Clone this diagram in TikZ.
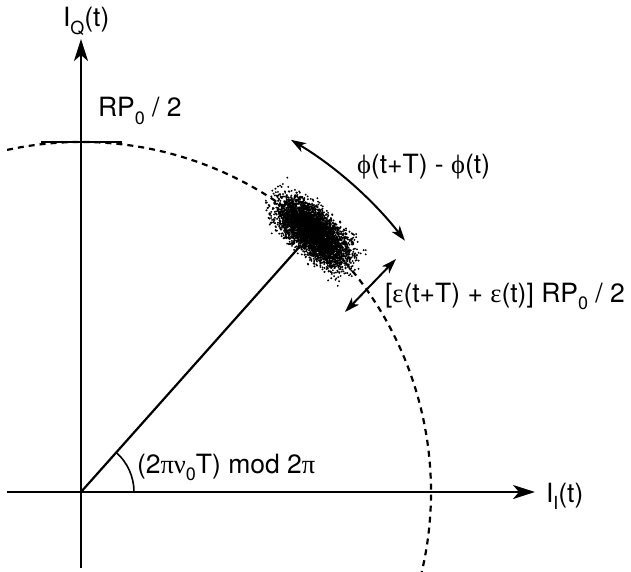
\documentclass[tikz,border=0pt]{standalone}
\usepackage{fontspec}
\setmainfont{TeX Gyre Heros}
\newfontfamily\grk{Liberation Serif}
\usetikzlibrary{arrows.meta,calc}
\newcommand\sbs[1]{\raisebox{-0.3em}{\fontsize{18}{18}\selectfont #1}}
\newcommand\gk[1]{{\grk #1}}
\begin{document}
\begin{tikzpicture}[x=1pt,y=-1pt,
  font=\fontsize{26.5}{30}\selectfont,
  axis/.style={line width=2.5pt,-{Stealth[length=22pt,width=14pt,inset=6pt]}},
  dbl/.style={line width=2pt,{Stealth[length=15pt,width=10pt,inset=4pt]}-{Stealth[length=15pt,width=10pt,inset=4pt]}},
  circ/.style={line width=2.2pt,dash pattern=on 6pt off 5pt},
  radial/.style={line width=2.2pt},
  lbl/.style={anchor=base west,inner sep=0pt,outer sep=0pt}]
\useasboundingbox (0,0) rectangle (631,572);
\coordinate (O) at (81,492);
\coordinate (xl) at (7,492);
\coordinate (xr) at (535,492);
\coordinate (yb) at (81,568);
\coordinate (yt) at (81,39);
\coordinate (tl) at (41,142);
\coordinate (tr) at (122,142);
% dashed circle
\begin{scope}
\clip (0,0) rectangle (631,572);
\draw[circ] ($(O)+(102.2:350pt)$) arc[start angle=102.2,end angle=-14,radius=350pt];
\end{scope}
% axes
\draw[axis] (xl) -- (xr);
\draw[axis] (yb) -- (yt);
\draw[line width=2.6pt] (tl) -- (tr);
% radius and cloud
\coordinate (C) at ($(O)+(48.3:348pt)$);
\draw[radial] (O) -- ($(O)+(48.3:330pt)$) coordinate (Cin);
\begin{scope}[shift={(C)},rotate=-42]
\pgfmathsetseed{42}
\foreach \i in {1,...,4500}{
  \pgfmathsetmacro{\a}{21*(rand+rand+rand)}
  \pgfmathsetmacro{\b}{10*(rand+rand+rand)}
  \fill (\a pt,\b pt) rectangle ++(1.5pt,1.5pt);
}
\end{scope}
% angle arc
\draw[line width=1.6pt] ($(O)+(53pt,0pt)$) arc[start angle=0,end angle=48.3,radius=53pt];
% phase arc
\coordinate (pa) at ($(O)+(59.2:410pt)$);
\draw[dbl] (pa) arc[start angle=59.2,end angle=37.8,radius=410pt] coordinate (pb);
% amplitude arrow
\coordinate (ea) at (345,312);
\coordinate (eb) at (396,259);
\draw[dbl] (ea) -- (eb);
% labels
\node[lbl] (lq) at (63,27) {I\sbs{Q}(t)};
\node[lbl] (rp) at (98,117) {RP\sbs{0} / 2};
\node[lbl] (ph) at (357,174) {\gk{ϕ}(t+T) - \gk{ϕ}(t)};
\node[lbl] (ep) at (385,302) {[\gk{ε}(t+T) + \gk{ε}(t)] RP\sbs{0} / 2};
\node[lbl] (an) at (137,473) {(2\gk{πν}\sbs{0}T) mod 2\gk{π}};
\node[lbl] (li) at (546,502) {I\sbs{I}(t)};
\end{tikzpicture}
\end{document}
